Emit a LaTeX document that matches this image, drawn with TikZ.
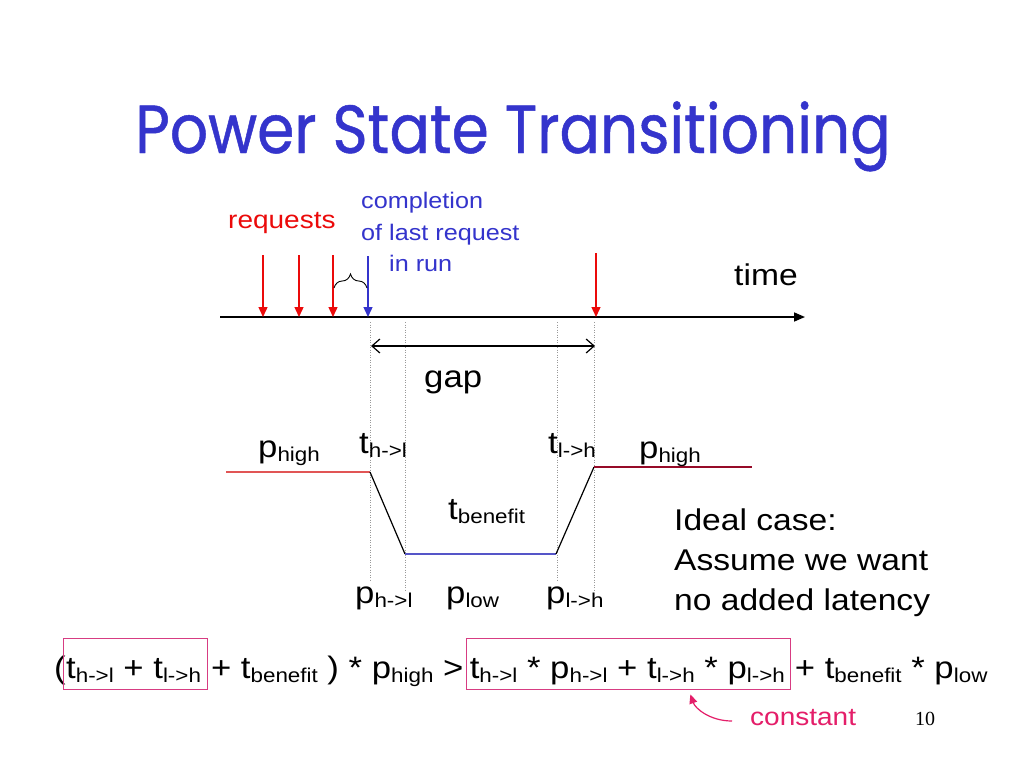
\documentclass[tikz,border=0pt]{standalone}
\usepackage{fontspec}
\setmainfont{Liberation Sans}[FakeStretch=1.12]
\newfontfamily\titlefont{Poppins}[FakeStretch=0.88,FakeBold=0.7]
\newfontfamily\numfont{Liberation Serif}
\usetikzlibrary{arrows.meta,decorations.pathreplacing,calc,fit}
\definecolor{titleblue}{RGB}{52,52,204}
\definecolor{reqred}{RGB}{235,10,10}
\definecolor{lightred}{RGB}{225,85,85}
\definecolor{darkred}{RGB}{150,10,40}
\definecolor{lowblue}{RGB}{85,85,200}
\definecolor{pinkc}{RGB}{228,30,105}
\definecolor{boxc}{RGB}{215,60,130}
\newcommand\Msz{\fontsize{31}{31}\selectfont}
\newcommand\sbx[1]{\raisebox{-4pt}{\fontsize{20}{20}\selectfont #1}}
\begin{document}
\begin{tikzpicture}[x=1pt,y=-1pt,
  txt/.style={inner sep=0pt, anchor=base west},
  lbl/.style={txt, font=\Msz},
  eq/.style={inner sep=0pt, anchor=base west, font=\Msz},
  reqarrow/.style={draw=reqred, line width=1.4pt, -{Triangle[length=10pt,width=9pt]}},
  donearrow/.style={draw=titleblue, line width=1.4pt, -{Triangle[length=10pt,width=9pt]}},
  axis/.style={draw=black, line width=1.6pt, -{Triangle[length=11pt,width=9pt]}},
  gaparrow/.style={draw=black, line width=1.2pt, {Straight Barb[length=8pt,width=14pt]}-{Straight Barb[length=8pt,width=14pt]}},
  guide/.style={draw=black!40, line width=0.8pt, dash pattern=on 1pt off 1.5pt},
  curve/.style={line width=1.2pt},
  pinkbox/.style={draw=boxc, line width=1pt, inner sep=0pt},
  constarrow/.style={draw=pinkc, line width=1.2pt, -{Triangle[length=9pt,width=8pt]}}
]
\useasboundingbox (0,0) rectangle (1024,768);
\fill[white] (0,0) rectangle (1024,768);

% title
\node[txt, font=\titlefont\fontsize{68}{68}\selectfont, text=titleblue] (title) at (135,153) {Power State Transitioning};

% top texts
\node[txt, font=\fontsize{25}{25}\selectfont, text=reqred] (req) at (228,228) {requests};
\node[txt, font=\fontsize{22.5}{22.5}\selectfont, text=titleblue] (c1) at (361,208) {completion};
\node[txt, font=\fontsize{22.5}{22.5}\selectfont, text=titleblue] (c2) at (361,240) {of last request};
\node[txt, font=\fontsize{22.5}{22.5}\selectfont, text=titleblue] (c3) at (389,271) {in run};
\node[txt, font=\fontsize{30}{30}\selectfont] (time) at (734,285) {time};

% timeline
\coordinate (t0) at (220,317);
\coordinate (t1) at (805,317);
\draw[axis] (t0) -- (t1);

% request arrows
\coordinate (r1a) at (263,255); \coordinate (r1b) at (263,317);
\coordinate (r2a) at (299,255); \coordinate (r2b) at (299,317);
\coordinate (r3a) at (333,255); \coordinate (r3b) at (333,317);
\coordinate (r4a) at (596,253); \coordinate (r4b) at (596,317);
\coordinate (ba) at (368,256); \coordinate (bb) at (368,317);
\draw[reqarrow] (r1a) -- (r1b);
\draw[reqarrow] (r2a) -- (r2b);
\draw[reqarrow] (r3a) -- (r3b);
\draw[reqarrow] (r4a) -- (r4b);
\draw[donearrow] (ba) -- (bb);

% brace
\coordinate (br0) at (334,288);
\coordinate (br1) at (367,288);
\draw[line width=0.9pt, decorate, decoration={brace, amplitude=14pt}] (br0) -- (br1);

% guides
\coordinate (d1a) at (370,322); \coordinate (d1b) at (370,580);
\coordinate (d2a) at (405,322); \coordinate (d2b) at (405,590);
\coordinate (d3a) at (557,322); \coordinate (d3b) at (557,580);
\coordinate (d4a) at (594,322); \coordinate (d4b) at (594,590);
\draw[guide] (d1a) -- (d1b);
\draw[guide] (d2a) -- (d2b);
\draw[guide] (d3a) -- (d3b);
\draw[guide] (d4a) -- (d4b);

% gap arrow
\coordinate (g0) at (371,346);
\coordinate (g1) at (595,346);
\draw[gaparrow] (g0) -- (g1);
\node[txt, font=\fontsize{31}{31}\selectfont] (gap) at (424,387) {gap};

% power curve
\coordinate (a0) at (226,472);
\coordinate (a1) at (370,472);
\coordinate (a2) at (405,554);
\coordinate (a3) at (556,554);
\coordinate (a4) at (594,467);
\coordinate (a5) at (752,467);
\draw[curve, lightred] (a0) -- (a1);
\draw[curve, black] (a1) -- (a2);
\draw[curve, lowblue] (a2) -- (a3);
\draw[curve, black] (a3) -- (a4);
\draw[curve, darkred] (a4) -- (a5);

% labels
\node[lbl] (phl) at (258,457) {p\sbx{high}};
\node[lbl] (thl) at (359,453) {t\sbx{h->l}};
\node[lbl] (tlh) at (548,453) {t\sbx{l->h}};
\node[lbl] (phr) at (639,458) {p\sbx{high}};
\node[lbl] (tben) at (448,519) {t\sbx{benefit}};
\node[lbl] (p1) at (355,603) {p\sbx{h->l}};
\node[lbl] (p2) at (446,603) {p\sbx{low}};
\node[lbl] (p3) at (546,603) {p\sbx{l->h}};

% ideal case
\node[txt, font=\fontsize{30}{30}\selectfont] (i1) at (674,530) {Ideal case:};
\node[txt, font=\fontsize{30}{30}\selectfont] (i2) at (674,570) {Assume we want};
\node[txt, font=\fontsize{30}{30}\selectfont] (i3) at (674,610) {no added latency};

% equation
\node[eq] (e1) at (54,678) {(};
\node[eq] (e2) at (e1.base east) {t\sbx{h->l} + t\sbx{l->h}};
\node[eq] (e3) at (e2.base east) {\ + t\sbx{benefit} ) * p\sbx{high} >\ };
\node[eq] (e4) at ($(e3.base east)+(6,0)$) {t\sbx{h->l} * p\sbx{h->l} + t\sbx{l->h} * p\sbx{l->h}};
\node[eq] (e5) at (e4.base east) {\ + t\sbx{benefit} * p\sbx{low}};

\node[pinkbox, fit={($(e2.base west)+(-2,-40)$) ($(e2.base east)+(6,11)$)}] (box1) {};
\node[pinkbox, fit={($(e4.base west)+(-3,-40)$) ($(e4.base east)+(5,11)$)}] (box2) {};

% constant
\node[txt, font=\fontsize{25}{25}\selectfont, text=pinkc] (const) at (750,725) {constant};
\draw[constarrow] ($(const.base west)+(-18,-4)$) .. controls +(-22,0) and +(5,14) .. ($(box2.south)+(62,5)$);

% page number
\node[txt, font=\numfont\fontsize{20}{20}\selectfont] (pg) at (915,725) {10};
\end{tikzpicture}
\end{document}
